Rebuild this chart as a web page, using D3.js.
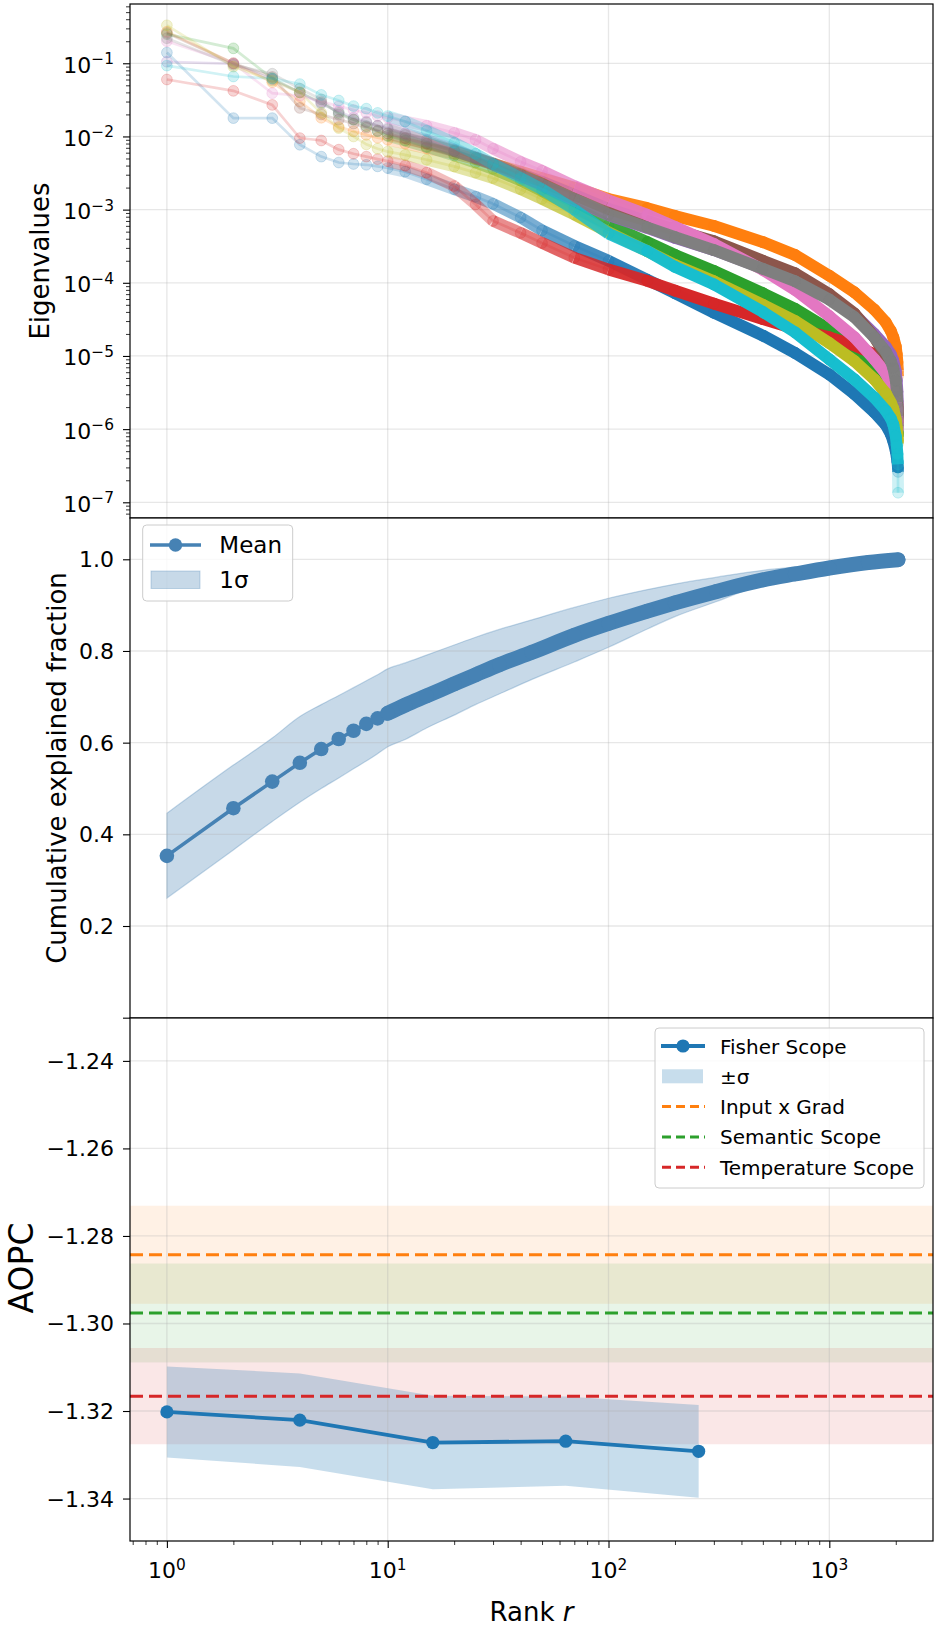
<!DOCTYPE html>
<html>
<head>
<meta charset="utf-8">
<script src="https://d3js.org/d3.v7.min.js"></script>
<style>
  html, body { margin: 0; padding: 0; background: #fff; }
  svg { display: block; }
  text { font-family: "DejaVu Sans", sans-serif; fill: #000; }
</style>
</head>
<body>
<div id="chart"></div>
<script>
// ---- data ----
// ranks at which the ten eigenvalue spectra were sampled
const eigRanks = [1, 2, 3, 4, 5, 6, 7, 8, 9, 10, 12, 15, 20, 25, 30, 40, 50, 70, 100, 150, 200, 300, 500, 700, 1000, 1300, 1600, 1800, 1900, 1950, 2000, 2020, 2035, 2045, 2048];
const eigBlue   = [0.14, 0.0178, 0.0178, 0.0077, 0.0053, 0.0044, 0.0042, 0.0041, 0.0039, 0.0037, 0.0033, 0.0026, 0.0019, 0.0015, 0.0012, 0.00078, 0.00052, 0.00032, 0.0002, 0.00011, 7.2e-5, 3.9e-5, 1.9e-5, 1.1e-5, 5.6e-6, 3.0e-6, 1.7e-6, 1.15e-6, 8.5e-7, 6.8e-7, 5.0e-7, 4.2e-7, 3.6e-7, 3.0e-7, 2.6e-7];
const eigOrange = [0.27, 0.10, 0.055, 0.030, 0.018, 0.0135, 0.0118, 0.0105, 0.0096, 0.0090, 0.0080, 0.0069, 0.0058, 0.0049, 0.0042, 0.0033, 0.0027, 0.0020, 0.0014, 0.00105, 0.00082, 0.00060, 0.00036, 0.00024, 0.000125, 7.4e-5, 4.3e-5, 2.9e-5, 2.2e-5, 1.8e-5, 1.35e-5, 1.05e-5, 8.3e-6, 6.3e-6, 5.3e-6];
const eigGreen  = [0.25, 0.16, 0.062, 0.040, 0.029, 0.021, 0.017, 0.0138, 0.0118, 0.0102, 0.0088, 0.0072, 0.0055, 0.0044, 0.0036, 0.0025, 0.0018, 0.00105, 0.00062, 0.00036, 0.00024, 0.000145, 7.2e-5, 4.4e-5, 2.3e-5, 1.25e-5, 6.6e-6, 4.2e-6, 3.1e-6, 2.5e-6, 1.8e-6, 1.4e-6, 1.1e-6, 9.0e-7, 7.8e-7];
const eigRed    = [0.060, 0.042, 0.027, 0.0095, 0.0088, 0.0066, 0.0058, 0.0053, 0.0049, 0.0046, 0.0040, 0.0032, 0.0021, 0.00118, 0.00070, 0.00048, 0.00035, 0.00022, 0.000152, 0.000106, 7.8e-5, 5.2e-5, 3.2e-5, 2.35e-5, 1.8e-5, 1.4e-5, 1.05e-5, 8.0e-6, 6.5e-6, 5.5e-6, 4.0e-6, 3.0e-6, 2.2e-6, 1.5e-6, 1.2e-6];
const eigPurple = [0.105, 0.098, 0.060, 0.040, 0.028, 0.022, 0.018, 0.016, 0.014, 0.013, 0.011, 0.009, 0.0066, 0.0052, 0.0042, 0.0029, 0.0022, 0.00135, 0.00084, 0.00056, 0.00041, 0.00028, 0.000158, 0.00011, 6.2e-5, 3.7e-5, 2.0e-5, 1.35e-5, 1.05e-5, 8.6e-6, 6.2e-6, 4.6e-6, 3.3e-6, 2.3e-6, 1.8e-6];
const eigBrown  = [0.26, 0.10, 0.065, 0.0245, 0.020, 0.017, 0.015, 0.0132, 0.012, 0.011, 0.0095, 0.0080, 0.0063, 0.0051, 0.0043, 0.0031, 0.0024, 0.0016, 0.00102, 0.00070, 0.00053, 0.00037, 0.00020, 0.000135, 7.0e-5, 3.8e-5, 1.8e-5, 1.0e-5, 6.5e-6, 4.8e-6, 3.2e-6, 2.5e-6, 2.0e-6, 1.6e-6, 1.4e-6];
const eigPink   = [0.20, 0.10, 0.039, 0.036, 0.030, 0.026, 0.023, 0.021, 0.019, 0.018, 0.016, 0.014, 0.0112, 0.0090, 0.0068, 0.0045, 0.0034, 0.0021, 0.00134, 0.00085, 0.00058, 0.00034, 0.000150, 8.0e-5, 3.5e-5, 1.8e-5, 9.0e-6, 5.8e-6, 4.2e-6, 3.4e-6, 2.4e-6, 1.9e-6, 1.45e-6, 1.1e-6, 9.5e-7];
const eigGray   = [0.22, 0.095, 0.072, 0.045, 0.032, 0.020, 0.017, 0.0155, 0.014, 0.0125, 0.0105, 0.0085, 0.0064, 0.0051, 0.0041, 0.0029, 0.0022, 0.0014, 0.00086, 0.00057, 0.00042, 0.00028, 0.000155, 0.000105, 5.9e-5, 3.4e-5, 1.8e-5, 1.15e-5, 8.5e-6, 6.8e-6, 4.6e-6, 3.3e-6, 2.3e-6, 1.5e-6, 1.1e-6];
const eigOlive  = [0.33, 0.09, 0.058, 0.040, 0.021, 0.013, 0.010, 0.0078, 0.0068, 0.0062, 0.0056, 0.0048, 0.0039, 0.0032, 0.0027, 0.0019, 0.0014, 0.00086, 0.00049, 0.00027, 0.000175, 0.000105, 5.0e-5, 3.0e-5, 1.5e-5, 8.5e-6, 4.8e-6, 3.1e-6, 2.3e-6, 1.9e-6, 1.35e-6, 1.05e-6, 8.7e-7, 7.2e-7, 6.3e-7];
const eigCyan   = [0.093, 0.066, 0.062, 0.052, 0.037, 0.031, 0.026, 0.024, 0.021, 0.019, 0.016, 0.012, 0.0082, 0.0058, 0.0042, 0.0027, 0.0019, 0.0010, 0.00047, 0.00027, 0.000165, 9.5e-5, 4.0e-5, 2.1e-5, 9.0e-6, 4.8e-6, 2.7e-6, 1.8e-6, 1.4e-6, 1.15e-6, 8.0e-7, 6.0e-7, 4.6e-7, 3.3e-7, 1.35e-7];

// cumulative explained fraction
const meanRanks = [1, 2, 3, 4, 5, 6, 7, 8, 9, 10, 12, 15, 20, 25, 32, 45, 70, 100, 150, 200, 309, 500, 700, 1000, 1500, 2048];
const meanFrac  = [0.353, 0.457, 0.515, 0.556, 0.586, 0.608, 0.626, 0.641, 0.653, 0.664, 0.682, 0.702, 0.728, 0.748, 0.770, 0.797, 0.834, 0.860, 0.887, 0.905, 0.930, 0.955, 0.968, 0.981, 0.993, 0.999];
const meanLower = [0.261, 0.366, 0.428, 0.470, 0.500, 0.523, 0.543, 0.560, 0.576, 0.591, 0.607, 0.632, 0.660, 0.683, 0.706, 0.738, 0.776, 0.808, 0.848, 0.875, 0.908, 0.946, 0.964, 0.980, 0.992, 0.998];
const meanUpper = [0.446, 0.551, 0.610, 0.657, 0.683, 0.703, 0.720, 0.735, 0.748, 0.761, 0.774, 0.791, 0.813, 0.830, 0.847, 0.868, 0.895, 0.915, 0.934, 0.946, 0.961, 0.976, 0.983, 0.990, 0.996, 1.000];

// AOPC
const fisherRanks = [1, 4, 16, 64, 256];
const fisherAopc  = [-1.3202, -1.3221, -1.3272, -1.3269, -1.3292];
const fisherStd   = [0.0104, 0.0107, 0.0107, 0.0102, 0.0106];
const baselineNames = ["Input x Grad", "Semantic Scope", "Temperature Scope"];
const baselineAopc  = [-1.2843, -1.2976, -1.3166];
const baselineStd   = [0.0112, 0.0113, 0.0110];

// ticks
const xTicks = [1, 10, 100, 1000];
const eigTickExps = [-7, -6, -5, -4, -3, -2, -1];
const fracTicks = [0.0, 0.2, 0.4, 0.6, 0.8, 1.0];
const aopcTicks = [-1.34, -1.32, -1.30, -1.28, -1.26, -1.24];

// ---- layout ----
const W = 935, H = 1629;
const left = 130, right = 933;
const panels = [[4, 518], [518, 1018], [1018, 1541]];
const tab10 = d3.schemeCategory10;
const steel = "#4682b4";
const MARK_R = 5.4;

const svg = d3.select("#chart").append("svg").attr("width", W).attr("height", H);
svg.append("rect").attr("width", W).attr("height", H).attr("fill", "#fff");

const x = d3.scaleLog().domain([10 ** -0.1671, 10 ** 3.4696]).range([left, right]);
const yEig = d3.scaleLog().domain([10 ** -7.2145, 10 ** -0.1899]).range([518, 4]);
const yFrac = d3.scaleLinear().domain([-0.0007, 1.0901]).range([1018, 518]);
const yAopc = d3.scaleLinear().domain([-1.3497, -1.2302]).range([1541, 1018]);

const defs = svg.append("defs");
panels.forEach(([t, b], i) => {
  defs.append("clipPath").attr("id", "clip" + i)
    .append("rect").attr("x", left).attr("y", t).attr("width", right - left).attr("height", b - t);
});

function logMinor(scale) {
  const [a, b] = scale.domain();
  const out = [];
  for (let e = Math.floor(Math.log10(a)); e <= Math.ceil(Math.log10(b)); e++) {
    for (let k = 2; k <= 9; k++) {
      const v = k * 10 ** e;
      if (v >= a && v <= b) out.push(v);
    }
  }
  return out;
}

function drawGrid(g, yScale, yVals, top, bottom) {
  g.selectAll(null).data(xTicks).join("line")
    .attr("x1", d => x(d)).attr("x2", d => x(d)).attr("y1", top).attr("y2", bottom)
    .attr("stroke", "#b0b0b0").attr("stroke-opacity", 0.3).attr("stroke-width", 1.3);
  g.selectAll(null).data(yVals).join("line")
    .attr("x1", left).attr("x2", right).attr("y1", d => yScale(d)).attr("y2", d => yScale(d))
    .attr("stroke", "#b0b0b0").attr("stroke-opacity", 0.3).attr("stroke-width", 1.3);
}

function drawFrame(top, bottom) {
  svg.append("rect").attr("x", left).attr("y", top).attr("width", right - left).attr("height", bottom - top)
    .attr("fill", "none").attr("stroke", "#000").attr("stroke-width", 1.2);
}

function yTicks(scale, vals, size, width) {
  svg.append("g").attr("transform", `translate(${left},0)`)
    .call(d3.axisLeft(scale).tickValues(vals).tickSize(size).tickFormat(""))
    .call(g => g.select(".domain").remove())
    .call(g => g.selectAll("line").attr("stroke", "#000").attr("stroke-width", width));
}

function powLabel(sel, exp) {
  sel.append("tspan").text("10");
  sel.append("tspan").attr("dy", -8.5).attr("font-size", 15.4).text(exp < 0 ? "\u2212" + (-exp) : String(exp));
}

// ---------- panel 1: eigenvalue spectra ----------
{
  const [top, bottom] = panels[0];
  const g = svg.append("g").attr("clip-path", "url(#clip0)");
  drawGrid(g, yEig, eigTickExps.map(e => 10 ** e), top, bottom);

  const spectra = [eigBlue, eigOrange, eigGreen, eigRed, eigPurple, eigBrown, eigPink, eigGray, eigOlive, eigCyan];
  spectra.forEach((vals, i) => {
    const c = tab10[i];
    const pts = eigRanks.map((r, j) => [x(r), yEig(vals[j])]);
    const s = g.append("g");
    s.append("path").attr("d", d3.line()(pts)).attr("fill", "none")
      .attr("stroke", c).attr("stroke-opacity", 0.2).attr("stroke-width", 2.7);
    // where the markers pile up, draw them as a band whose opacity follows their density
    for (let j = 1; j < pts.length; j++) {
      const count = eigRanks[j] - eigRanks[j - 1];
      if (count < 2) continue;
      const len = Math.hypot(pts[j][0] - pts[j - 1][0], pts[j][1] - pts[j - 1][1]);
      const n = count * (2 * MARK_R + 1) / Math.max(len, 0.5);
      const op = Math.min(1, 1 - Math.pow(0.8, n * 0.85));
      s.append("line")
        .attr("x1", pts[j - 1][0]).attr("y1", pts[j - 1][1]).attr("x2", pts[j][0]).attr("y2", pts[j][1])
        .attr("stroke", c).attr("stroke-opacity", op).attr("stroke-width", 2 * MARK_R + 1)
        .attr("stroke-linecap", op > 0.95 ? "round" : "butt");
    }
    s.selectAll(null).data(pts).join("circle")
      .attr("cx", d => d[0]).attr("cy", d => d[1]).attr("r", MARK_R)
      .attr("fill", c).attr("fill-opacity", 0.2)
      .attr("stroke", c).attr("stroke-opacity", 0.2).attr("stroke-width", 1);
  });

  drawFrame(top, bottom);
  yTicks(yEig, eigTickExps.map(e => 10 ** e), 7, 1.1);
  yTicks(yEig, logMinor(yEig), 4, 0.8);
  eigTickExps.forEach(e => {
    const t = svg.append("text").attr("x", 114).attr("y", yEig(10 ** e) + 9.4)
      .attr("text-anchor", "end").attr("font-size", 22);
    powLabel(t, e);
  });
  svg.append("text").attr("transform", `translate(49,${(top + bottom) / 2}) rotate(-90)`)
    .attr("text-anchor", "middle").attr("font-size", 26).text("Eigenvalues");
}

// ---------- panel 2: cumulative explained fraction ----------
{
  const [top, bottom] = panels[1];
  svg.append("rect").attr("x", left).attr("y", top).attr("width", right - left).attr("height", bottom - top).attr("fill", "#fff");
  const g = svg.append("g").attr("clip-path", "url(#clip1)");
  const idx = d3.range(meanRanks.length);
  const band = d3.area().curve(d3.curveMonotoneX)
    .x(i => x(meanRanks[i])).y0(i => yFrac(meanLower[i])).y1(i => yFrac(meanUpper[i]));
  g.append("path").attr("d", band(idx)).attr("fill", steel).attr("fill-opacity", 0.3)
    .attr("stroke", steel).attr("stroke-opacity", 0.3).attr("stroke-width", 1.2);
  drawGrid(g, yFrac, fracTicks.slice(1), top, bottom);

  const line = d3.line().x(i => x(meanRanks[i])).y(i => yFrac(meanFrac[i]));
  g.append("path").attr("d", line(idx)).attr("fill", "none").attr("stroke", steel).attr("stroke-width", 3.6);
  // from rank 10 on the markers touch and merge into one thick band
  g.append("path").attr("d", line.curve(d3.curveMonotoneX)(idx.filter(i => meanRanks[i] >= 10))).attr("fill", "none")
    .attr("stroke", steel).attr("stroke-width", 15).attr("stroke-linecap", "round").attr("stroke-linejoin", "round");
  g.selectAll(null).data(idx).join("circle")
    .attr("cx", i => x(meanRanks[i])).attr("cy", i => yFrac(meanFrac[i])).attr("r", 7.3).attr("fill", steel);

  drawFrame(top, bottom);
  yTicks(yFrac, fracTicks, 7, 1.1);
  fracTicks.slice(1).forEach(v => {
    svg.append("text").attr("x", 114).attr("y", yFrac(v) + 8).attr("text-anchor", "end")
      .attr("font-size", 22).text(v.toFixed(1));
  });
  svg.append("text").attr("transform", `translate(66,${(top + bottom) / 2}) rotate(-90)`)
    .attr("text-anchor", "middle").attr("font-size", 26).text("Cumulative explained fraction");

  // legend
  const lg = svg.append("g");
  lg.append("rect").attr("x", 142.7).attr("y", 525).attr("width", 150).attr("height", 76).attr("rx", 4)
    .attr("fill", "#fff").attr("fill-opacity", 0.8).attr("stroke", "#cccccc").attr("stroke-width", 1);
  lg.append("line").attr("x1", 150).attr("x2", 201).attr("y1", 545).attr("y2", 545)
    .attr("stroke", steel).attr("stroke-width", 3.6);
  lg.append("circle").attr("cx", 175.5).attr("cy", 545).attr("r", 6.7).attr("fill", steel);
  lg.append("text").attr("x", 219.3).attr("y", 553.3).attr("font-size", 23).text("Mean");
  lg.append("rect").attr("x", 151).attr("y", 571).attr("width", 49).attr("height", 17.5)
    .attr("fill", steel).attr("fill-opacity", 0.3).attr("stroke", steel).attr("stroke-opacity", 0.3);
  lg.append("text").attr("x", 219.3).attr("y", 588.3).attr("font-size", 23).text("1σ");
}

// ---------- panel 3: AOPC ----------
{
  const [top, bottom] = panels[2];
  svg.append("rect").attr("x", left).attr("y", top).attr("width", right - left).attr("height", bottom - top).attr("fill", "#fff");
  const g = svg.append("g").attr("clip-path", "url(#clip2)");
  const baseColors = [tab10[1], tab10[2], tab10[3]];
  baselineAopc.forEach((v, i) => {
    g.append("rect").attr("x", left).attr("width", right - left)
      .attr("y", yAopc(v + baselineStd[i])).attr("height", yAopc(v - baselineStd[i]) - yAopc(v + baselineStd[i]))
      .attr("fill", baseColors[i]).attr("fill-opacity", 0.11);
  });
  const idx = d3.range(fisherRanks.length);
  const band = d3.area().x(i => x(fisherRanks[i]))
    .y0(i => yAopc(fisherAopc[i] - fisherStd[i])).y1(i => yAopc(fisherAopc[i] + fisherStd[i]));
  g.append("path").attr("d", band(idx)).attr("fill", tab10[0]).attr("fill-opacity", 0.25);
  drawGrid(g, yAopc, aopcTicks, top, bottom);
  baselineAopc.forEach((v, i) => {
    g.append("line").attr("x1", left).attr("x2", right).attr("y1", yAopc(v)).attr("y2", yAopc(v))
      .attr("stroke", baseColors[i]).attr("stroke-width", 3).attr("stroke-dasharray", "13 6");
  });
  const line = d3.line().x(i => x(fisherRanks[i])).y(i => yAopc(fisherAopc[i]));
  g.append("path").attr("d", line(idx)).attr("fill", "none").attr("stroke", tab10[0]).attr("stroke-width", 3.8);
  g.selectAll(null).data(idx).join("circle")
    .attr("cx", i => x(fisherRanks[i])).attr("cy", i => yAopc(fisherAopc[i])).attr("r", 6.6).attr("fill", tab10[0]);

  drawFrame(top, bottom);
  yTicks(yAopc, aopcTicks, 7, 1.1);
  aopcTicks.forEach(v => {
    svg.append("text").attr("x", 114).attr("y", yAopc(v) + 8).attr("text-anchor", "end")
      .attr("font-size", 22).text(v.toFixed(2).replace("-", "\u2212"));
  });
  svg.append("text").attr("transform", `translate(33,1268) rotate(-90)`)
    .attr("text-anchor", "middle").attr("font-size", 33).text("AOPC");

  // x axis
  const xa = svg.append("g").attr("transform", `translate(0,${bottom})`);
  xa.call(d3.axisBottom(x).tickValues(xTicks).tickSize(7).tickFormat(""))
    .call(a => a.select(".domain").remove())
    .call(a => a.selectAll("line").attr("stroke", "#000").attr("stroke-width", 1.1));
  const xm = svg.append("g").attr("transform", `translate(0,${bottom})`);
  xm.call(d3.axisBottom(x).tickValues(logMinor(x)).tickSize(4).tickFormat(""))
    .call(a => a.select(".domain").remove())
    .call(a => a.selectAll("line").attr("stroke", "#000").attr("stroke-width", 0.8));
  xTicks.forEach(v => {
    const t = svg.append("text").attr("x", x(v)).attr("y", 1578).attr("text-anchor", "middle").attr("font-size", 22);
    powLabel(t, Math.round(Math.log10(v)));
  });
  const xl = svg.append("text").attr("x", (left + right) / 2).attr("y", 1621)
    .attr("text-anchor", "middle").attr("font-size", 26);
  xl.append("tspan").text("Rank ");
  xl.append("tspan").attr("font-style", "italic").text("r");

  // legend
  const lg = svg.append("g");
  lg.append("rect").attr("x", 655).attr("y", 1028).attr("width", 269).attr("height", 160).attr("rx", 4)
    .attr("fill", "#fff").attr("fill-opacity", 0.8).attr("stroke", "#cccccc").attr("stroke-width", 1);
  const rowY = i => 1053.5 + 30.3 * i;
  lg.append("line").attr("x1", 661).attr("x2", 705).attr("y1", rowY(0) - 7.5).attr("y2", rowY(0) - 7.5)
    .attr("stroke", tab10[0]).attr("stroke-width", 3.8);
  lg.append("circle").attr("cx", 683).attr("cy", rowY(0) - 7.5).attr("r", 6.6).attr("fill", tab10[0]);
  lg.append("rect").attr("x", 662).attr("y", 1069.3).attr("width", 41).attr("height", 14)
    .attr("fill", tab10[0]).attr("fill-opacity", 0.25);
  baseColors.forEach((c, i) => {
    lg.append("line").attr("x1", 662).attr("x2", 705).attr("y1", rowY(i + 2) - 7.5).attr("y2", rowY(i + 2) - 7.5)
      .attr("stroke", c).attr("stroke-width", 3).attr("stroke-dasharray", "9 5");
  });
  ["Fisher Scope", "±σ"].concat(baselineNames).forEach((name, i) => {
    lg.append("text").attr("x", 720).attr("y", rowY(i)).attr("font-size", 20).text(name);
  });
}
</script>
</body>
</html>
